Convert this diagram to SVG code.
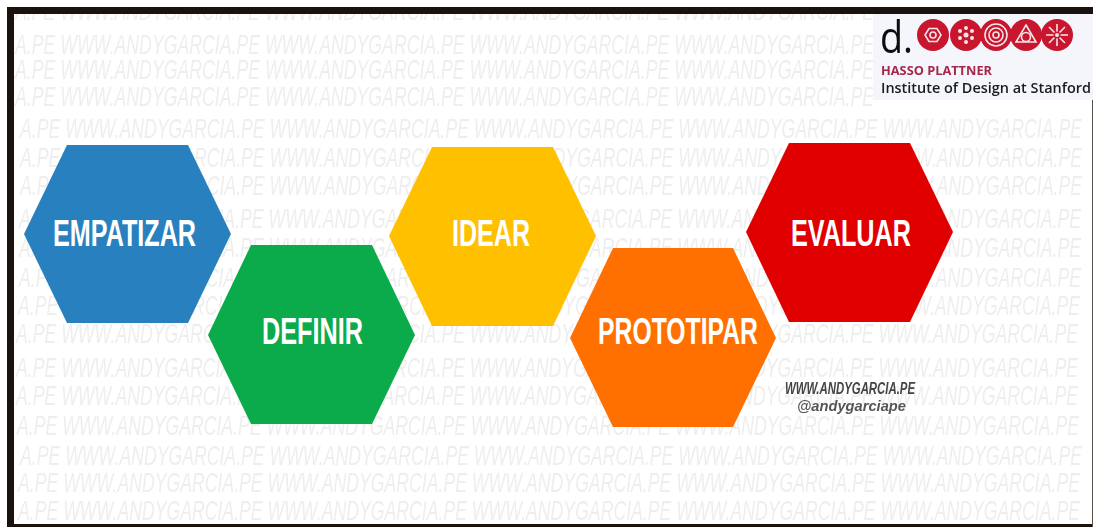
<svg xmlns="http://www.w3.org/2000/svg" width="1093" height="527" viewBox="0 0 1093 527">
<defs>
<style>
.wm{font-family:"Liberation Sans",sans-serif;font-style:italic;font-size:28px;fill:#eeeeee}
.lb{font-family:"Liberation Sans",sans-serif;font-weight:700;font-size:36px;fill:#fff;text-anchor:middle}
.ic{fill:none;stroke:#f6e6e6;stroke-width:1.6}
.dot{fill:#f6e6e6}
.seal{fill:#c8142e}
</style>
<filter id="soft" x="-2%" y="-2%" width="104%" height="104%"><feGaussianBlur stdDeviation="0.5"/></filter>
<filter id="softer" x="-2%" y="-2%" width="104%" height="104%"><feGaussianBlur stdDeviation="0.7"/></filter>
</defs>
<rect width="1093" height="527" fill="#fff"/>
<g id="watermark" filter="url(#softer)">
<text class="wm" x="15" y="20" textLength="859" lengthAdjust="spacingAndGlyphs">A.PE WWW.ANDYGARCIA.PE WWW.ANDYGARCIA.PE WWW.ANDYGARCIA.PE WWW.ANDYGARCIA.PE</text>
<text class="wm" x="15" y="54" textLength="859" lengthAdjust="spacingAndGlyphs">A.PE WWW.ANDYGARCIA.PE WWW.ANDYGARCIA.PE WWW.ANDYGARCIA.PE WWW.ANDYGARCIA.PE</text>
<text class="wm" x="15" y="79" textLength="859" lengthAdjust="spacingAndGlyphs">A.PE WWW.ANDYGARCIA.PE WWW.ANDYGARCIA.PE WWW.ANDYGARCIA.PE WWW.ANDYGARCIA.PE</text>
<text class="wm" x="15" y="106" textLength="859" lengthAdjust="spacingAndGlyphs">A.PE WWW.ANDYGARCIA.PE WWW.ANDYGARCIA.PE WWW.ANDYGARCIA.PE WWW.ANDYGARCIA.PE</text>
<text class="wm" x="20" y="138" textLength="1062" lengthAdjust="spacingAndGlyphs">A.PE WWW.ANDYGARCIA.PE WWW.ANDYGARCIA.PE WWW.ANDYGARCIA.PE WWW.ANDYGARCIA.PE WWW.ANDYGARCIA.PE</text>
<text class="wm" x="20" y="167" textLength="1062" lengthAdjust="spacingAndGlyphs">A.PE WWW.ANDYGARCIA.PE WWW.ANDYGARCIA.PE WWW.ANDYGARCIA.PE WWW.ANDYGARCIA.PE WWW.ANDYGARCIA.PE</text>
<text class="wm" x="20" y="195" textLength="1062" lengthAdjust="spacingAndGlyphs">A.PE WWW.ANDYGARCIA.PE WWW.ANDYGARCIA.PE WWW.ANDYGARCIA.PE WWW.ANDYGARCIA.PE WWW.ANDYGARCIA.PE</text>
<text class="wm" x="19" y="228" textLength="1062" lengthAdjust="spacingAndGlyphs">A.PE WWW.ANDYGARCIA.PE WWW.ANDYGARCIA.PE WWW.ANDYGARCIA.PE WWW.ANDYGARCIA.PE WWW.ANDYGARCIA.PE</text>
<text class="wm" x="19" y="257" textLength="1062" lengthAdjust="spacingAndGlyphs">A.PE WWW.ANDYGARCIA.PE WWW.ANDYGARCIA.PE WWW.ANDYGARCIA.PE WWW.ANDYGARCIA.PE WWW.ANDYGARCIA.PE</text>
<text class="wm" x="19" y="287" textLength="1062" lengthAdjust="spacingAndGlyphs">A.PE WWW.ANDYGARCIA.PE WWW.ANDYGARCIA.PE WWW.ANDYGARCIA.PE WWW.ANDYGARCIA.PE WWW.ANDYGARCIA.PE</text>
<text class="wm" x="18" y="315" textLength="1062" lengthAdjust="spacingAndGlyphs">A.PE WWW.ANDYGARCIA.PE WWW.ANDYGARCIA.PE WWW.ANDYGARCIA.PE WWW.ANDYGARCIA.PE WWW.ANDYGARCIA.PE</text>
<text class="wm" x="16" y="343" textLength="1062" lengthAdjust="spacingAndGlyphs">A.PE WWW.ANDYGARCIA.PE WWW.ANDYGARCIA.PE WWW.ANDYGARCIA.PE WWW.ANDYGARCIA.PE WWW.ANDYGARCIA.PE</text>
<text class="wm" x="16" y="377" textLength="1062" lengthAdjust="spacingAndGlyphs">A.PE WWW.ANDYGARCIA.PE WWW.ANDYGARCIA.PE WWW.ANDYGARCIA.PE WWW.ANDYGARCIA.PE WWW.ANDYGARCIA.PE</text>
<text class="wm" x="16" y="405" textLength="1062" lengthAdjust="spacingAndGlyphs">A.PE WWW.ANDYGARCIA.PE WWW.ANDYGARCIA.PE WWW.ANDYGARCIA.PE WWW.ANDYGARCIA.PE WWW.ANDYGARCIA.PE</text>
<text class="wm" x="17" y="435" textLength="1062" lengthAdjust="spacingAndGlyphs">A.PE WWW.ANDYGARCIA.PE WWW.ANDYGARCIA.PE WWW.ANDYGARCIA.PE WWW.ANDYGARCIA.PE WWW.ANDYGARCIA.PE</text>
<text class="wm" x="20" y="465" textLength="1062" lengthAdjust="spacingAndGlyphs">A.PE WWW.ANDYGARCIA.PE WWW.ANDYGARCIA.PE WWW.ANDYGARCIA.PE WWW.ANDYGARCIA.PE WWW.ANDYGARCIA.PE</text>
<text class="wm" x="18" y="492" textLength="1062" lengthAdjust="spacingAndGlyphs">A.PE WWW.ANDYGARCIA.PE WWW.ANDYGARCIA.PE WWW.ANDYGARCIA.PE WWW.ANDYGARCIA.PE WWW.ANDYGARCIA.PE</text>
<text class="wm" x="18" y="520" textLength="1062" lengthAdjust="spacingAndGlyphs">A.PE WWW.ANDYGARCIA.PE WWW.ANDYGARCIA.PE WWW.ANDYGARCIA.PE WWW.ANDYGARCIA.PE WWW.ANDYGARCIA.PE</text>
</g>
<g id="frame" fill="#1c120d">
<rect x="0" y="0" width="1093" height="7" fill="#fff"/>
<rect x="7" y="7" width="1086" height="7"/>
<rect x="7" y="7" width="7" height="520"/>
<rect x="7" y="524" width="1086" height="3"/>
<rect x="1092" y="100" width="1" height="427" fill="#5a4f48"/>
</g>
<g id="logo" filter="url(#soft)">
<rect x="873" y="14" width="220" height="86" fill="#f4f6fb"/>
<text x="880" y="53" font-family="'Open Sans',sans-serif" font-size="44" fill="#111" textLength="33" lengthAdjust="spacingAndGlyphs">d.</text>
<g id="seals">
<circle class="seal" cx="933" cy="35" r="16"/><circle class="seal" cx="966" cy="35" r="16"/><circle class="seal" cx="996" cy="35" r="16"/><circle class="seal" cx="1026" cy="35" r="16"/><circle class="seal" cx="1057" cy="35" r="16"/>
<path class="ic" stroke-width="2.4" d="M925 35l4-6.500h8l4 6.500-4 6.500h-8z"/><circle class="ic" cx="933" cy="35" r="3"/>
<g class="dot"><circle cx="966" cy="35" r="2.500"/><circle cx="960" cy="31" r="2"/><circle cx="966" cy="28" r="2"/><circle cx="972" cy="31" r="2"/><circle cx="972" cy="38" r="2"/><circle cx="966" cy="42" r="2"/><circle cx="960" cy="38" r="2"/></g>
<circle class="ic" cx="996" cy="35" r="11"/><circle class="ic" cx="996" cy="35" r="7"/><circle class="ic" cx="996" cy="35" r="3"/>
<path class="ic" d="M1026 25l10 17h-20z"/><circle class="ic" cx="1026" cy="37" r="4.500"/>
<path class="ic" stroke-width="2" d="M1057 24v22M1046 35h22M1049 27l16 16M1065 27l-16 16"/><circle class="seal" cx="1057" cy="35" r="3.500"/><circle class="dot" cx="1057" cy="35" r="2"/>
</g>
<text x="881" y="75" font-family="'Open Sans',sans-serif" font-weight="700" font-size="12" fill="#a8274a" textLength="111" lengthAdjust="spacingAndGlyphs">HASSO PLATTNER</text>
<text x="881" y="93" font-family="'Open Sans',sans-serif" font-weight="600" font-size="15" fill="#1a1a1a" textLength="210" lengthAdjust="spacingAndGlyphs">Institute of Design at Stanford</text>
</g>
<g id="connectors"></g>
<g id="empatizar"><polygon points="24,234 67,145 188,145 231,234 188,323 67,323" fill="#2980bf"/><text class="lb" x="124.500" y="246" textLength="143" lengthAdjust="spacingAndGlyphs">EMPATIZAR</text></g>
<g id="definir"><polygon points="208,335 251,245 372,245 415,335 372,424 251,424" fill="#0bab4b"/><text class="lb" x="312.500" y="344" textLength="101" lengthAdjust="spacingAndGlyphs">DEFINIR</text></g>
<g id="idear"><polygon points="389,236 432,147 553,147 596,236 553,326 432,326" fill="#ffc000"/><text class="lb" x="491" y="246" textLength="78" lengthAdjust="spacingAndGlyphs">IDEAR</text></g>
<g id="prototipar"><polygon points="570,338 613,248 733,248 776,338 733,427 613,427" fill="#ff7000"/><text class="lb" x="678" y="344" textLength="160" lengthAdjust="spacingAndGlyphs">PROTOTIPAR</text></g>
<g id="evaluar"><polygon points="746,232 789,143 910,143 953,232 910,322 789,322" fill="#e00000"/><text class="lb" x="851" y="246" textLength="120" lengthAdjust="spacingAndGlyphs">EVALUAR</text></g>
<g id="credit" filter="url(#soft)">
<text x="850" y="394" text-anchor="middle" font-family="'Liberation Sans',sans-serif" font-style="italic" font-weight="700" font-size="16" fill="#444" textLength="130" lengthAdjust="spacingAndGlyphs">WWW.ANDYGARCIA.PE</text>
<text x="851.500" y="411" text-anchor="middle" font-family="'Liberation Sans',sans-serif" font-style="italic" font-weight="700" font-size="14" fill="#555" textLength="109" lengthAdjust="spacingAndGlyphs">@andygarciape</text>
</g>
</svg>
